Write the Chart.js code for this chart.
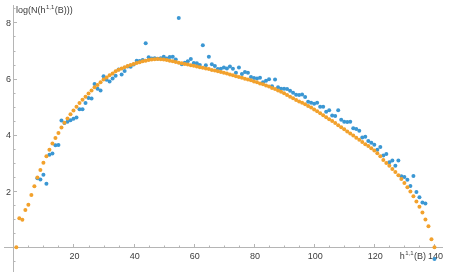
<!DOCTYPE html>
<html>
<head>
<meta charset="utf-8">
<script src="https://cdn.jsdelivr.net/npm/chart.js@4.4.1/dist/chart.umd.min.js"></script>
<style>
  html, body { margin: 0; padding: 0; background: #fff; }
  #wrap { width: 449px; height: 279px; position: relative; }
</style>
</head>
<body>
<div id="wrap"><canvas id="chart"></canvas></div>
<script>
/* scatter: log(N(h11)) vs h11, data (blue) + fit (orange) */

// orange series, h = 1 .. 140
const fitValues = [
  0.00, 1.03, 0.98, 1.33, 1.51, 1.86, 2.17, 2.48, 2.75, 3.01,
  3.24, 3.47, 3.69, 3.89, 4.07, 4.26, 4.43, 4.58, 4.73, 4.87,
  5.00, 5.13, 5.25, 5.36, 5.47, 5.58, 5.69, 5.77, 5.87, 5.97,
  6.04, 6.12, 6.18, 6.26, 6.32, 6.36, 6.41, 6.45, 6.49, 6.52,
  6.56, 6.58, 6.62, 6.64, 6.66, 6.68, 6.69, 6.70, 6.69, 6.68,
  6.66, 6.64, 6.62, 6.59, 6.57, 6.55, 6.52, 6.50, 6.48, 6.46,
  6.43, 6.41, 6.39, 6.36, 6.34, 6.31, 6.29, 6.26, 6.24, 6.21,
  6.18, 6.15, 6.12, 6.09, 6.06, 6.03, 6.00, 5.97, 5.94, 5.90,
  5.87, 5.83, 5.80, 5.76, 5.72, 5.67, 5.63, 5.58, 5.53, 5.48,
  5.42, 5.36, 5.30, 5.24, 5.19, 5.14, 5.09, 5.03, 4.97, 4.90,
  4.84, 4.77, 4.70, 4.63, 4.56, 4.49, 4.42, 4.34, 4.27, 4.20,
  4.12, 4.05, 3.98, 3.90, 3.83, 3.75, 3.67, 3.60, 3.52, 3.44,
  3.35, 3.24, 3.11, 3.00, 2.90, 2.79, 2.68, 2.56, 2.43, 2.29,
  2.14, 1.99, 1.82, 1.63, 1.44, 1.24, 0.99, 0.75, 0.29, 0.00
];
const fitStart = 1;

// blue series, h = 8 .. 140 (null = no point)
const dataValues = [
  2.46, 2.41, 2.58,
  2.26, 3.29, 3.34, 3.63, 3.64, 4.51, 4.42, 4.47, 4.52, 4.57,
  4.62, 4.91, 4.91, 5.13, 5.31, 5.29, 5.81, 5.64, 5.58, 6.09,
  5.96, 5.90, 6.01, 6.10, 6.33, 6.15, 6.27, 6.43, 6.42, 6.50,
  6.64, 6.63, 6.66, 7.26, 6.76, 6.72, 6.73, 6.71, 6.73, 6.78,
  6.72, 6.77, 6.78, 6.68, 8.16, 6.51, 6.57, 6.62, 6.70, 6.56,
  6.55, 6.49, 7.19, 6.48, 6.78, 6.51, 6.45, 6.34, 6.35, 6.40,
  6.36, 6.43, 6.35, 6.21, 6.40, 6.17, 6.24, 6.21, 6.06, 6.02,
  6.01, 6.03, 5.87, 5.93, 5.98, 5.73, 5.97, 5.69, 5.64, 5.64,
  5.63, 5.57, 5.50, 5.43, 5.42, 5.44, 5.35, 5.18, 5.14, 5.11,
  5.14, 5.00, 5.00, 4.82, 4.88, 4.69, 4.67, 4.88, 4.54, 4.47,
  4.46, 4.47, 4.24, 4.21, 4.15, 3.91, 3.93, 3.78, 3.72, 3.65,
  3.47, 3.57, 3.27, 3.32, 3.03, 3.09, 2.90, 3.09, 2.53, 2.50,
  2.40, 2.18, 2.54, 1.97, 1.78, 1.59, 1.56, null, null, -0.42
];
const dataStart = 8;

const xTicks = [20, 40, 60, 80, 100, 120, 140];
const yTicks = [2, 4, 6, 8];

const BLUE = '#3b97d3';
const ORANGE = '#f2a12c';
const AXIS_COLOR = '#b5b5b5';
const TEXT_COLOR = '#3c3c3c';
const FONT = '"Liberation Sans", Arial, sans-serif';

function toPoints(values, start) {
  return values
    .map((v, i) => ({ x: start + i, y: v }))
    .filter(p => p.y !== null);
}

// text with a small raised "1,1"; returns its width
function drawSupText(ctx, parts, x, base, measureOnly) {
  let cx = x;
  parts.forEach(p => {
    ctx.font = (p.sup ? '6px ' : '9px ') + FONT;
    if (!measureOnly) ctx.fillText(p.t, p.sup ? cx + 0.5 : cx, p.sup ? base - 4 : base);
    cx += ctx.measureText(p.t).width + (p.sup ? 1 : 0);
  });
  return cx - x;
}

const mmaAxes = {
  id: 'mmaAxes',
  beforeDatasetsDraw(chart) {
    const { ctx, chartArea, scales: { x, y } } = chart;
    const x0 = Math.round(x.getPixelForValue(0)) + 0.5;
    const y0 = Math.round(y.getPixelForValue(0)) + 0.5;
    ctx.save();
    ctx.strokeStyle = AXIS_COLOR;
    ctx.lineWidth = 1;

    // axis lines
    ctx.beginPath();
    ctx.moveTo(chartArea.left, y0);
    ctx.lineTo(chartArea.right - 2, y0);
    ctx.moveTo(x0, chartArea.top + 1);
    ctx.lineTo(x0, chartArea.bottom - 3);
    ctx.stroke();

    // x ticks (minor every 5)
    ctx.beginPath();
    for (let v = 5; v <= x.max; v += 5) {
      const px = Math.round(x.getPixelForValue(v)) + 0.5;
      const len = xTicks.includes(v) ? 3.5 : 2;
      ctx.moveTo(px, y0);
      ctx.lineTo(px, y0 - len);
    }
    // y ticks (minor every 0.5)
    for (let v = -0.5; v <= y.max; v += 0.5) {
      if (v === 0) continue;
      const py = Math.round(y.getPixelForValue(v)) + 0.5;
      const len = yTicks.includes(v) ? 3.5 : 2;
      ctx.moveTo(x0, py);
      ctx.lineTo(x0 + len, py);
    }
    ctx.stroke();

    // tick labels
    ctx.fillStyle = TEXT_COLOR;
    ctx.font = '9px ' + FONT;
    ctx.textAlign = 'center';
    ctx.textBaseline = 'alphabetic';
    xTicks.forEach(v => ctx.fillText(String(v), x.getPixelForValue(v) + 1, y0 + 11.5));
    ctx.textAlign = 'right';
    yTicks.forEach(v => ctx.fillText(String(v), x0 - 2.5, y.getPixelForValue(v) + 3.5));

    // axis labels
    ctx.textAlign = 'left';
    drawSupText(ctx, [{ t: 'log(N(h' }, { t: '1,1', sup: true }, { t: '(B)))' }], 16, 13);
    const xLab = [{ t: 'h' }, { t: '1,1', sup: true }, { t: '(B)' }];
    const w = drawSupText(ctx, xLab, 0, 0, true);
    drawSupText(ctx, xLab, 426 - w, y0 + 11.5);
    ctx.restore();
  }
};

new Chart(document.getElementById('chart'), {
  type: 'scatter',
  data: {
    datasets: [
      {
        label: 'data',
        data: toPoints(dataValues, dataStart),
        backgroundColor: BLUE,
        borderWidth: 0,
        pointRadius: 2,
        order: 2
      },
      {
        label: 'fit',
        data: toPoints(fitValues, fitStart),
        backgroundColor: ORANGE,
        borderWidth: 0,
        pointRadius: 2,
        order: 1
      }
    ]
  },
  options: {
    responsive: true,
    maintainAspectRatio: false,
    animation: false,
    layout: { padding: 0 },
    scales: {
      x: { type: 'linear', min: -3.1, max: 143.5, display: false },
      y: { type: 'linear', min: -0.985, max: 8.656, display: false }
    },
    plugins: {
      legend: { display: false },
      tooltip: { enabled: false }
    }
  },
  plugins: [mmaAxes]
});
</script>
</body>
</html>
